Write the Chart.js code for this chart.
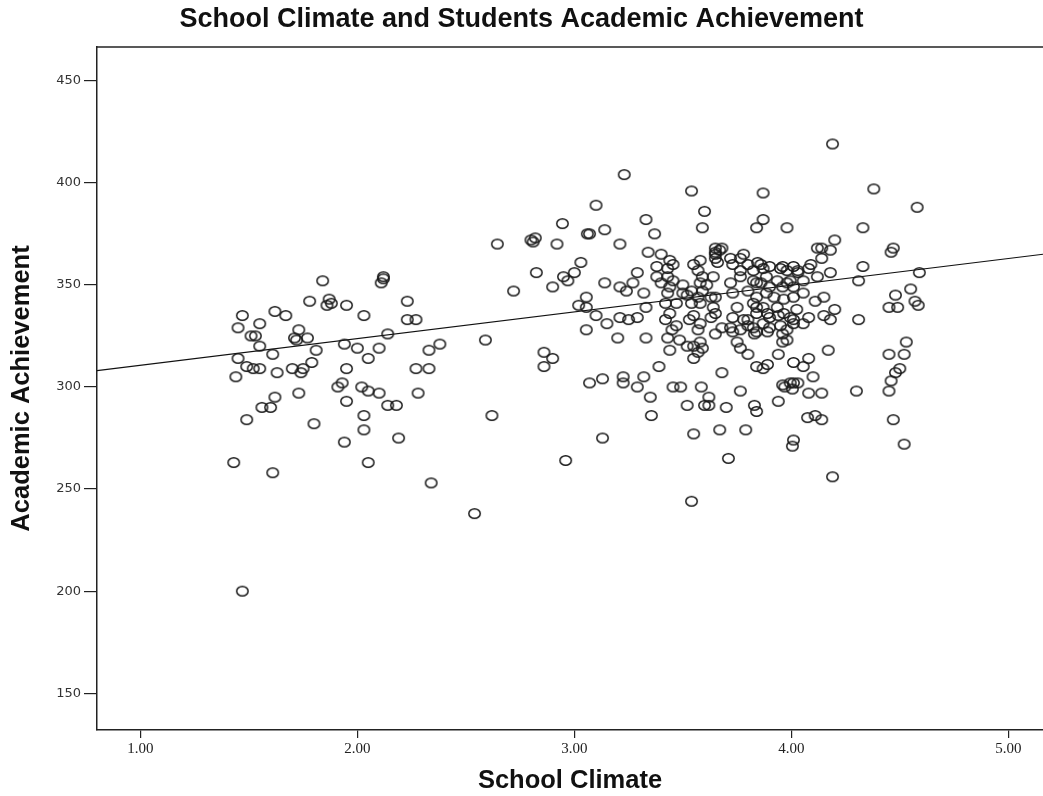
<!DOCTYPE html>
<html>
<head>
<meta charset="utf-8">
<title>School Climate and Students Academic Achievement</title>
<script src="https://cdn.jsdelivr.net/npm/chart.js@4.4.1/dist/chart.umd.min.js"></script>
<style>
  html, body { margin: 0; padding: 0; background: #fff; }
  #wrap { width: 1043px; height: 796px; }
</style>
</head>
<body>
<div id="wrap"><canvas id="scatterChart" width="1043" height="796"></canvas></div>
<script>
// Axis ticks
const xTickValues = [1, 2, 3, 4, 5];
const yTickValues = [150, 200, 250, 300, 350, 400, 450];

// [school climate, academic achievement], grouped by climate band
const lowClimate = [
    [1.43,263],[1.47,200],[1.61,258],[2.05,263],[2.34,253],[2.54,238],[1.94,273],[2.19,275],
    [1.84,352],[1.78,342],[1.47,335],[1.45,329],[1.55,331],[1.62,337],[1.67,335],[1.73,328],
    [1.71,324],[1.72,323],[1.77,324],[1.51,325],[1.53,325],[1.55,320],[1.81,318],[1.61,316],
    [1.45,314],[1.79,312],[1.49,310],[1.52,309],[1.55,309],[1.63,307],[1.70,309],[1.75,309],
    [1.74,307],[1.44,305],[1.73,297],[1.62,295],[1.56,290],[1.60,290],[1.49,284],[1.80,282],
    [2.12,354],[2.12,353],[2.11,351],[1.87,343],[1.88,341],[1.86,340],[1.95,340],[2.03,335],
    [2.23,342],[2.23,333],[2.27,333],[1.94,321],[2.00,319],[2.10,319],[2.14,326],[2.05,314],
    [1.95,309],[1.91,300],[1.93,302],[2.02,300],[2.05,298],[2.10,297],[2.14,291],[2.18,291],
    [1.95,293],[2.03,286],[2.03,279],[2.28,297],[2.27,309],[2.33,309],[2.33,318],[2.38,321]
];

const midClimate = [
    [2.59,323],[2.62,286],[2.645,370],[2.72,347],[2.80,372],[2.82,373],[2.81,371],[2.945,380],
    [2.92,370],[2.825,356],[2.90,349],[2.95,354],[2.97,352],[3.00,356],[3.03,361],[3.06,375],
    [3.07,375],[3.10,389],[2.86,317],[2.90,314],[2.86,310],[3.055,344],[3.02,340],[3.055,339],
    [3.10,335],[3.055,328],[3.07,302],[2.96,264],[3.23,404],[3.33,382],[3.37,375],[3.14,377],
    [3.21,370],[3.34,366],[3.14,351],[3.21,349],[3.24,347],[3.29,356],[3.27,351],[3.32,346],
    [3.15,331],[3.21,334],[3.25,333],[3.29,334],[3.33,339],[3.20,324],[3.33,324],[3.13,304],
    [3.225,305],[3.225,302],[3.32,305],[3.29,300],[3.35,295],[3.355,286],[3.13,275],[3.39,310],
    [3.40,365],[3.44,362],[3.455,360],[3.43,358],[3.38,359],[3.38,354],[3.43,354],[3.455,352],
    [3.40,351],[3.44,349],[3.50,350],[3.50,346],[3.43,346],[3.42,341],[3.47,341],[3.44,336],
    [3.42,333],[3.47,330],[3.45,328],[3.43,324],[3.65,368],[3.65,366],[3.65,365],[3.65,363],
    [3.66,361],[3.67,367],[3.68,368],[3.55,360],[3.58,362],[3.57,357],[3.59,354],[3.58,351],
    [3.59,347],[3.61,350],[3.64,354],[3.54,347],[3.57,344],[3.58,341],[3.63,344],[3.65,344],
    [3.64,339],[3.65,336],[3.63,334],[3.54,341],[3.55,335],[3.53,333],[3.58,331],[3.57,328],
    [3.52,345],[3.60,386],[3.59,378],[3.54,396],[3.44,318],[3.485,323],[3.52,320],[3.55,320],
    [3.57,317],[3.55,314],[3.58,322],[3.59,319],[3.49,300],[3.455,300],[3.585,300],[3.62,295],
    [3.60,291],[3.62,291],[3.70,290],[3.52,291],[3.68,307],[3.55,277],[3.67,279],[3.54,244],
    [3.71,265],[3.65,326]
];

const highClimate = [
    [3.68,329],[3.72,329],[3.73,327],[3.765,328],[3.80,330],[3.78,333],[3.825,329],[3.84,327],
    [3.87,331],[3.90,329],[3.95,330],[3.98,328],[4.01,331],[3.72,363],[3.765,363],[3.78,365],
    [3.73,360],[3.765,357],[3.80,360],[3.825,357],[3.845,361],[3.87,358],[3.90,359],[3.95,358],
    [3.98,357],[4.01,359],[4.03,356],[3.72,351],[3.765,354],[3.825,352],[3.86,351],[3.885,354],
    [3.935,352],[3.98,351],[4.01,349],[3.73,346],[3.80,347],[3.84,344],[3.885,346],[3.92,344],
    [3.965,343],[4.01,344],[3.75,339],[3.825,341],[3.87,339],[3.935,339],[3.965,336],[3.73,334],
    [3.80,333],[3.84,336],[3.90,334],[3.995,334],[4.025,338],[3.87,395],[3.87,382],[3.84,378],
    [3.98,378],[3.75,322],[3.765,319],[3.80,316],[3.83,326],[3.89,327],[3.96,326],[3.98,323],
    [3.94,316],[3.84,310],[3.87,309],[3.89,311],[3.97,300],[4.01,302],[4.005,299],[3.83,291],
    [3.84,288],[3.94,293],[4.01,274],[4.005,271],[3.765,298],[3.79,279],[4.08,314],[4.01,312],
    [4.055,310],[4.10,305],[3.96,301],[3.995,302],[4.03,302],[4.08,297],[4.14,297],[4.075,285],
    [4.11,286],[4.14,284],[4.19,256],[4.17,318],[4.19,419],[4.20,372],[4.18,367],[4.14,368],
    [4.12,368],[4.14,363],[4.09,360],[4.08,358],[4.03,357],[3.96,359],[3.86,360],[4.18,356],
    [4.12,354],[4.055,352],[3.995,352],[3.96,349],[3.90,349],[3.84,351],[4.055,346],[4.15,344],
    [4.11,342],[3.84,339],[3.89,336],[3.94,335],[4.01,333],[4.055,331],[4.15,335],[4.18,333],
    [4.20,338],[4.08,334],[3.96,322],[4.38,397],[4.58,388],[4.33,378],[4.47,368],[4.46,366],
    [4.33,359],[4.59,356],[4.31,352],[4.45,339],[4.49,339],[4.55,348],[4.57,342],[4.585,340],
    [4.48,345],[4.31,333],[4.53,322],[4.45,316],[4.52,316],[4.46,303],[4.48,307],[4.50,309],
    [4.45,298],[4.47,284],[4.52,272],[4.30,298]
];

// Fit line ends, read at the plot edges
const fitLine = [[0.8, 308], [5.16, 365]];

document.addEventListener('DOMContentLoaded', () => {

    // 1. Open ellipse marker (the SPSS circles are a bit wider than tall)
    const marker = document.createElement('canvas');
    marker.width = 15; marker.height = 13;
    const mctx = marker.getContext('2d');
    mctx.strokeStyle = '#1a1a1a';
    mctx.lineWidth = 1.5;
    mctx.beginPath();
    mctx.ellipse(7.5, 6.5, 5.7, 4.8, 0, 0, Math.PI * 2);
    mctx.stroke();

    // 2. Top frame line, the other sides come from the axes
    const frameTop = {
        id: 'frameTop',
        afterDraw(chart) {
            const { ctx, chartArea: a } = chart;
            ctx.save();
            ctx.strokeStyle = '#222';
            ctx.lineWidth = 1.5;
            ctx.beginPath();
            ctx.moveTo(a.left, a.top);
            ctx.lineTo(a.right, a.top);
            ctx.stroke();
            ctx.restore();
        }
    };

    const toXY = ([x, y]) => ({ x, y });
    const axisColor = '#222';
    const boldFont = size => ({ family: "'Liberation Sans', Arial, sans-serif", size, weight: 'bold' });

    new Chart(document.getElementById('scatterChart').getContext('2d'), {
        type: 'scatter',
        data: {
            datasets: [
                {
                    label: 'Students',
                    data: [...lowClimate, ...midClimate, ...highClimate].map(toXY),
                    pointStyle: marker,
                    pointRadius: 6,
                    borderColor: '#1a1a1a',
                    backgroundColor: 'transparent'
                },
                {
                    label: 'Fit',
                    type: 'line',
                    data: fitLine.map(toXY),
                    borderColor: '#111',
                    borderWidth: 1.1,
                    pointRadius: 0,
                    fill: false
                }
            ]
        },
        options: {
            responsive: false,
            animation: false,
            devicePixelRatio: 1,
            // plot runs right to the window edge, so no overflow padding
            layout: { padding: 0, autoPadding: false },
            plugins: {
                legend: { display: false },
                tooltip: { enabled: false },
                title: {
                    display: true,
                    text: 'School Climate and Students Academic Achievement',
                    color: '#111',
                    font: boldFont(27),
                    padding: { top: 3, bottom: 11.6 }
                }
            },
            scales: {
                x: {
                    type: 'linear',
                    min: 0.8, max: 5.16,
                    afterBuildTicks: s => { s.ticks = xTickValues.map(v => ({ value: v })); },
                    afterFit: s => { s.height = 66; s.paddingLeft = 0; s.paddingRight = 0; },
                    ticks: {
                        callback: v => v.toFixed(2),
                        color: axisColor,
                        padding: 2,
                        font: { family: "'Liberation Serif', serif", size: 15 }
                    },
                    grid: { drawOnChartArea: false, tickLength: 8, color: axisColor, lineWidth: 1.2 },
                    border: { color: axisColor, width: 1.5 },
                    title: {
                        display: true,
                        text: 'School Climate',
                        color: '#111',
                        font: boldFont(25.5),
                        padding: { top: 0, bottom: 0 }
                    }
                },
                y: {
                    type: 'linear',
                    min: 132, max: 466.5,
                    afterBuildTicks: s => { s.ticks = yTickValues.map(v => ({ value: v })); },
                    afterFit: s => { s.width = 97; },
                    ticks: {
                        color: '#333',
                        padding: 3,
                        font: { family: "'DejaVu Sans', sans-serif", size: 13 }
                    },
                    grid: { drawOnChartArea: false, tickLength: 13, color: axisColor, lineWidth: 1.2 },
                    border: { color: axisColor, width: 1.5 },
                    title: {
                        display: true,
                        text: 'Academic Achievement',
                        color: '#111',
                        font: boldFont(25.5),
                        padding: { top: 7, bottom: 0 }
                    }
                }
            }
        },
        plugins: [frameTop]
    });
});
</script>
</body>
</html>
